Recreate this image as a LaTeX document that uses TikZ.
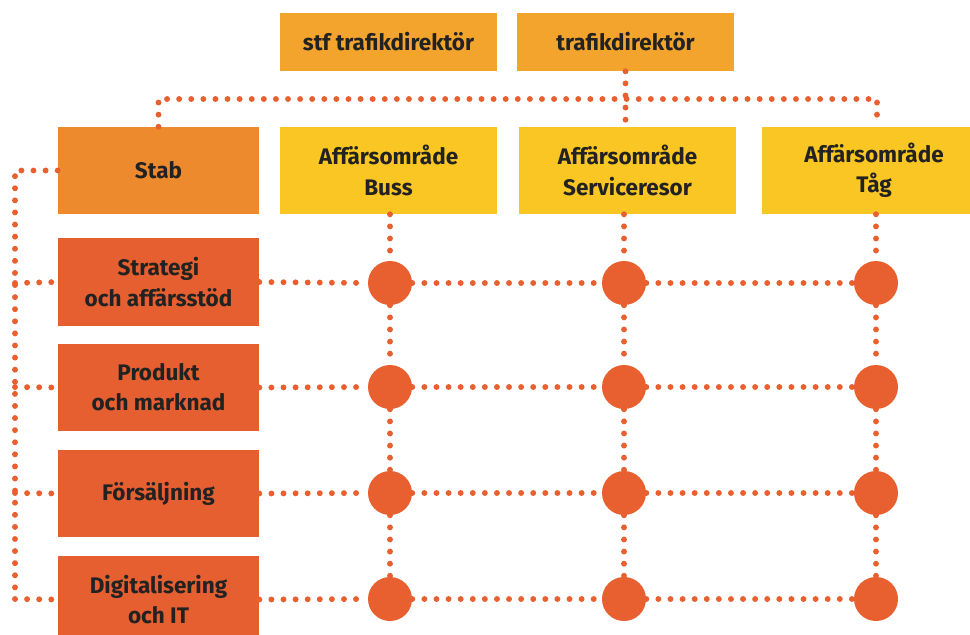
\documentclass[tikz,border=0pt]{standalone}
\usepackage{fontspec}
\setmainfont{Fira Sans}
\usetikzlibrary{positioning}
\definecolor{dirorange}{HTML}{F2A42C}
\definecolor{staborange}{HTML}{EE8A2E}
\definecolor{areayellow}{HTML}{F9C623}
\definecolor{unitred}{HTML}{E55F30}
\definecolor{dotred}{HTML}{E8602F}
\definecolor{inkgrey}{HTML}{222222}

\begin{document}
\begin{tikzpicture}[x=0.025cm,y=-0.025cm,
  box/.style={minimum width=5.425cm, minimum height=2.175cm, inner sep=0pt,
    align=center, text=inkgrey, font=\bfseries\fontsize{16}{21.5}\selectfont},
  topbox/.style={box, fill=dirorange, minimum height=1.45cm},
  areabox/.style={box, fill=areayellow},
  unitbox/.style={box, fill=unitred, minimum width=5.025cm},
  hub/.style={circle, fill=dotred, minimum size=1.1cm, inner sep=0pt},
  dots/.style={draw=dotred, line width=4.2pt, line cap=round, dash pattern=on 0pt off 8.6pt}]
\useasboundingbox (0,0) rectangle (970,634);

% ledning
\node[topbox] (stf) at (388.5,42) {stf trafikdirektör};
\node[topbox] (dir) at (625.5,42) {trafikdirektör};

% stab och affärsområden
\node[box, fill=staborange, minimum width=5.025cm] (stab) at (158.5,170.5) {Stab};
\node[areabox] (buss) at (388.5,170.5) {Affärsområde\\Buss};
\node[areabox] (serv) at (627.5,170.5) {Affärsområde\\Serviceresor};
\node[areabox, minimum width=5.6cm] (tag) at (874,170.5) {Affärsområde\\Tåg};

% stödfunktioner
\node[unitbox] (u1) at (158.5,282) {Strategi\\och affärsstöd};
\node[unitbox] (u2) at (158.5,387.5) {Produkt\\och marknad};
\node[unitbox] (u3) at (158.5,493.5) {Försäljning};
\node[unitbox] (u4) at (158.5,599.5) {Digitalisering\\och IT};

% korsningar
\foreach \r/\y in {1/283,2/387,3/493,4/599} {
  \node[hub] (h\r1) at (390,\y) {};
  \node[hub] (h\r2) at (624,\y) {};
  \node[hub] (h\r3) at (876,\y) {};
  \draw[dots] (u\r.east) -- (h\r1.west);
  \draw[dots] (h\r1.east) -- (h\r2.west);
  \draw[dots] (h\r2.east) -- (h\r3.west);
  \coordinate (l\r) at (15,\y);
}

% vertikala linjer
\draw[dots] (buss.south -| h11) -- (h11.north);
\draw[dots] (serv.south -| h12) -- (h12.north);
\draw[dots] (tag.south -| h13) -- (h13.north);
\foreach \c in {1,2,3} {
  \draw[dots] (h1\c.south) -- (h2\c.north);
  \draw[dots] (h2\c.south) -- (h3\c.north);
  \draw[dots] (h3\c.south) -- (h4\c.north);
}

% överliggande linje
\coordinate (jr) at (877,99);
\coordinate (jd) at (dir.south |- jr);
\draw[dots] (stab.north) |- (jr) -- (tag.north -| jr);
\draw[dots] (dir.south) -- (jd) -- (serv.north -| jd);

% stabens linje
\coordinate (ls) at (15,170.5);
\draw[dots] (stab.west) -- (ls) -- (l4);
\foreach \r in {1,2,3,4}
  \draw[dots] (l\r) -- (u\r.west);
\end{tikzpicture}
\end{document}
